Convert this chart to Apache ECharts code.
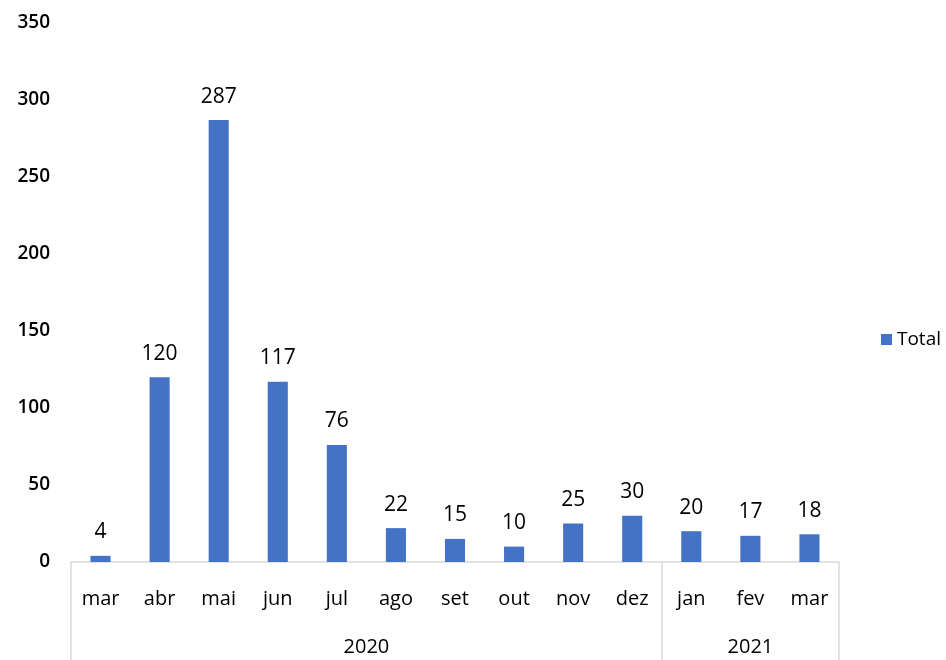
<!DOCTYPE html>
<html><head><meta charset="utf-8">
<script src="https://cdn.jsdelivr.net/npm/echarts@6/dist/echarts.min.js"></script>
<style>html,body{margin:0;padding:0;background:#fff}#c{width:946px;height:660px}</style>
</head><body><div id="c"></div>
<script>
const months = ['mar','abr','mai','jun','jul','ago','set','out','nov','dez','jan','fev','mar'];
const totals = [4,120,287,117,76,22,15,10,25,30,20,17,18];
const years = ['2020','2021'];
const yearSpans = [10,3];
const yTicks = {min:0,max:350,interval:50};

const boundaries = [0];
yearSpans.forEach(s=>boundaries.push(boundaries[boundaries.length-1]+s));
const yearCenters = yearSpans.map((s,i)=>boundaries[i]+s/2);

const font = '"Open Sans", "Liberation Sans", sans-serif';
const chart = echarts.init(document.getElementById('c'));
chart.setOption({
  animation:false,
  grid:{left:71,right:107,top:23,bottom:98,containLabel:false},
  legend:{
    data:['Total'], right:0, top:325, orient:'vertical',
    itemWidth:11,itemHeight:11,itemGap:6,icon:'rect',
    textStyle:{fontSize:19,color:'#000',fontFamily:font}
  },
  xAxis:[{
    type:'category', data:months,
    axisLine:{show:true,lineStyle:{color:'#d9d9d9',width:1.5}},
    axisTick:{show:false},
    axisLabel:{fontSize:20,color:'#000',margin:27,fontFamily:font,interval:0}
  },{
    type:'value', min:0, max:months.length, position:'bottom',
    axisLine:{show:false},
    splitLine:{show:false},
    axisTick:{show:true,customValues:boundaries,length:98,inside:false,lineStyle:{color:'#d9d9d9',width:1.5}},
    axisLabel:{show:true,customValues:yearCenters,margin:75,fontSize:20,color:'#000',fontFamily:font,
      formatter:v=>{const i=yearCenters.indexOf(v);return i>=0?years[i]:'';}}
  }],
  yAxis:{
    type:'value', min:yTicks.min, max:yTicks.max, interval:yTicks.interval,
    axisLine:{show:false}, axisTick:{show:false}, splitLine:{show:false},
    axisLabel:{fontSize:19,fontWeight:600,color:'#000',margin:21,fontFamily:font}
  },
  series:[{
    name:'Total', type:'bar', data:totals, xAxisIndex:0,
    barWidth:'34%',
    itemStyle:{color:'#4472C4'},
    label:{show:true,position:'top',distance:13,fontSize:21,color:'#000',fontFamily:font}
  }]
});
</script></body></html>
